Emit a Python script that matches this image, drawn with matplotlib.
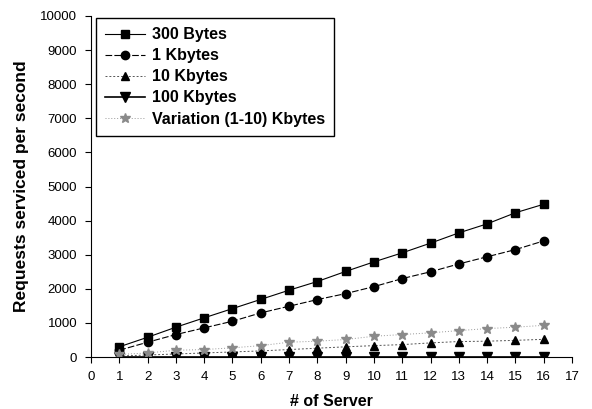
import numpy as np
import matplotlib
matplotlib.use("Agg")
import matplotlib.pyplot as plt

plt.rcParams['font.family'] = ['Liberation Sans', 'DejaVu Sans']

servers = list(range(1, 17))
bytes300 = [300, 580, 875, 1150, 1420, 1690, 1960, 2215, 2510, 2790, 3055, 3340, 3640, 3905, 4230, 4480]
kbytes1 = [200, 435, 660, 855, 1050, 1295, 1490, 1685, 1860, 2065, 2300, 2500, 2730, 2940, 3150, 3405]
kbytes10 = [30, 60, 90, 120, 150, 180, 220, 260, 300, 335, 365, 415, 455, 465, 490, 520]
kbytes100 = [15, 15, 15, 15, 15, 15, 15, 15, 15, 15, 15, 15, 15, 15, 15, 15]
variation = [75, 120, 200, 220, 270, 335, 435, 465, 515, 610, 660, 710, 775, 835, 875, 930]

xticks = list(range(0, 18))
yticks = list(range(0, 10001, 1000))

fig = plt.figure(figsize=(5.92, 4.09), dpi=100)
ax = fig.add_axes([0.1537, 0.127, 0.8125, 0.834])

ax.plot(servers, bytes300, color='black', lw=0.8, marker='s', ms=5.5, label='300 Bytes')
ax.plot(servers, kbytes1, color='black', lw=0.8, ls=(0, (6, 2)), marker='o', ms=6, label='1 Kbytes')
ax.plot(servers, kbytes10, color='#555555', lw=0.7, ls=(0, (2, 2)), marker='^', ms=6,
        mfc='black', mec='black', label='10 Kbytes')
ax.plot(servers, kbytes100, color='black', lw=1.2, marker='v', ms=6.5, label='100 Kbytes')
ax.plot(servers, variation, color='#999999', lw=0.7, ls=(0, (1, 2)), marker='*', ms=7,
        mfc='#8a8a8a', mec='#8a8a8a', label='Variation (1-10) Kbytes')

ax.set_xlim(0, 17)
ax.set_ylim(0, 10000)
ax.set_xticks(xticks)
ax.set_yticks(yticks)
ax.tick_params(labelsize=9.5, length=4, width=0.8, direction='out', pad=6)
ax.spines['top'].set_visible(False)
ax.spines['right'].set_visible(False)

ax.set_xlabel('# of Server', fontsize=11.5, fontweight='bold', labelpad=8)
ax.set_ylabel('Requests serviced per second', fontsize=12.5, fontweight='bold', labelpad=8)

leg = ax.legend(loc='upper left', bbox_to_anchor=(0.01, 0.995), borderaxespad=0,
                prop={'size': 11.5, 'weight': 'bold'}, handlelength=2.5, handletextpad=0.4,
                labelspacing=0.38, borderpad=0.6, fancybox=False, framealpha=1, edgecolor='black')
leg.get_frame().set_linewidth(1.0)

fig.savefig('out.png', dpi=100)
